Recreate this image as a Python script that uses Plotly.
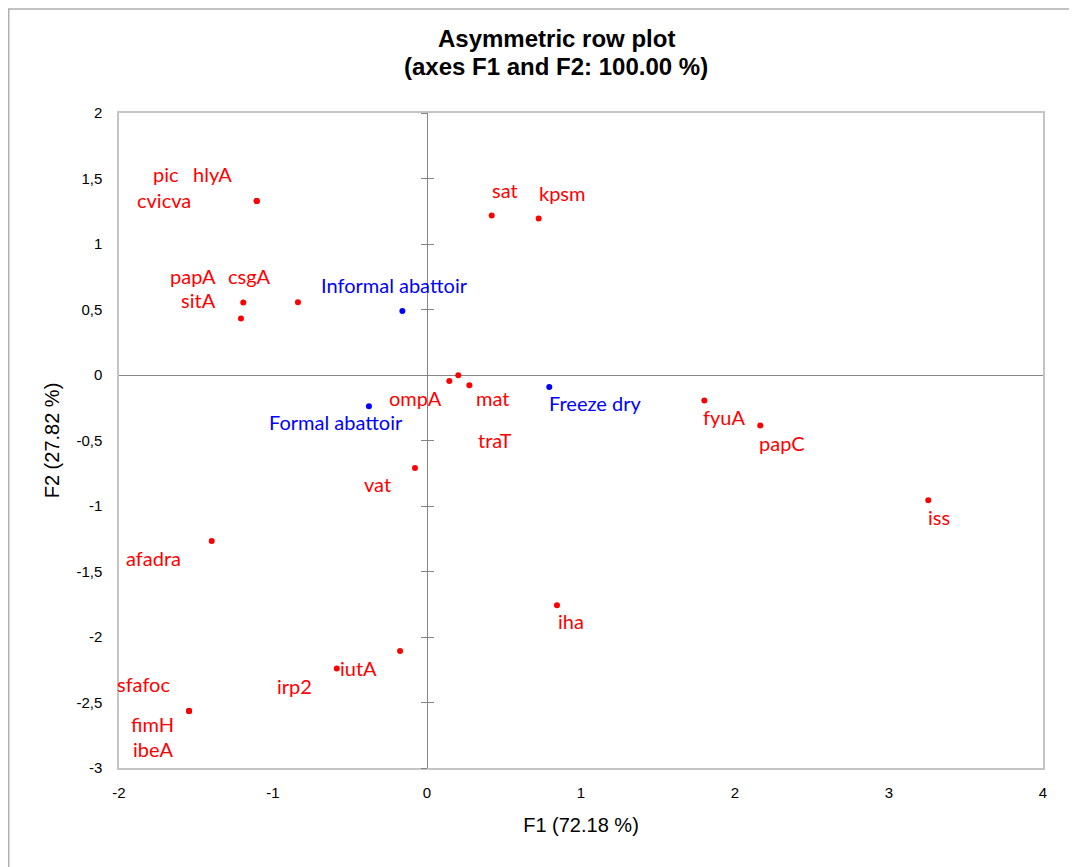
import plotly.graph_objects as go

# ---- data ----
row_labels = ["pic", "hlyA", "cvicva", "sat", "kpsm", "papA", "csgA", "sitA",
              "ompA", "mat", "traT", "fyuA", "papC", "iss", "vat", "afadra",
              "iha", "iutA", "irp2", "sfafoc", "fimH", "ibeA"]
row_f1 = [-1.106, -1.106, -1.106, 0.420, 0.725, -1.193, -0.838, -1.208,
          0.145, 0.203, 0.275, 1.801, 2.164, 3.255, -0.078, -1.398,
          0.844, -0.175, -0.586, -1.545, -1.545, -1.545]
row_f2 = [1.328, 1.328, 1.328, 1.217, 1.194, 0.553, 0.555, 0.431,
          -0.046, -0.002, -0.079, -0.195, -0.386, -0.956, -0.710, -1.267,
          -1.758, -2.107, -2.241, -2.565, -2.565, -2.565]

col_labels = ["Informal abattoir", "Formal abattoir", "Freeze dry"]
col_f1 = [-0.160, -0.377, 0.794]
col_f2 = [0.489, -0.239, -0.092]

x_ticks = [-2, -1, 0, 1, 2, 3, 4]
x_ticktext = ["-2", "-1", "0", "1", "2", "3", "4"]
y_ticks = [2, 1.5, 1, 0.5, 0, -0.5, -1, -1.5, -2, -2.5, -3]
y_ticktext = ["2", "1,5", "1", "0,5", "0", "-0,5", "-1", "-1,5", "-2", "-2,5", "-3"]

title_lines = ["Asymmetric row plot", "(axes F1 and F2: 100.00 %)"]
x_title = "F1 (72.18 %)"
y_title = "F2 (27.82 %)"

# ---- label placement (pixel offsets from point: right, down) ----
label_offsets = {
    "pic": (-91, -27), "hlyA": (-44, -27), "cvicva": (-93, -1),
    "sat": (13, -26), "kpsm": (23, -26),
    "papA": (-50, -27), "csgA": (-49, -26), "sitA": (-42, -19),
    "ompA": (-34, 17), "mat": (34, 23), "traT": (26, 55),
    "fyuA": (20, 16), "papC": (22, 17), "iss": (11, 17),
    "vat": (-37, 16), "afadra": (-58, 17), "iha": (14, 16),
    "iutA": (-42, 17), "irp2": (-42, 17),
    "sfafoc": (-46, -27), "fimH": (-37, 13), "ibeA": (-36, 38),
    "Informal abattoir": (-8, -26), "Formal abattoir": (-33, 16),
    "Freeze dry": (46, 16),
}

RED = "#ff0000"
BLUE = "#0000ff"
AXC = "#868686"
LABEL_FONT = "Lato"

W, H = 1077, 867
OFF = 8  # page body margin of the html page
# plot area in page pixels
PX0, PX1, PY0, PY1 = 119, 1043, 112.7, 767.7
L = PX0 - OFF
R = W - (PX1 - OFF)
T = PY0 - OFF
B = H - (PY1 - OFF)
PW = PX1 - PX0
PH = PY1 - PY0


def page_to_paper(px, py):
    fx = px - OFF
    fy = py - OFF
    return (fx - L) / PW, (H - B - fy) / PH


fig = go.Figure()
fig.add_trace(go.Scatter(x=row_f1, y=row_f2, mode="markers",
                         marker=dict(color=RED, size=6), hoverinfo="skip",
                         showlegend=False))
fig.add_trace(go.Scatter(x=col_f1, y=col_f2, mode="markers",
                         marker=dict(color=BLUE, size=6), hoverinfo="skip",
                         showlegend=False))
# empty traces to hold the tick-only overlay axes
fig.add_trace(go.Scatter(x=[], y=[], yaxis="y2", showlegend=False))
fig.add_trace(go.Scatter(x=[], y=[], yaxis="y3", showlegend=False))

annotations = []
for lab, xv, yv, col in ([(l, a, b, RED) for l, a, b in zip(row_labels, row_f1, row_f2)] +
                         [(l, a, b, BLUE) for l, a, b in zip(col_labels, col_f1, col_f2)]):
    dx, dy = label_offsets[lab]
    annotations.append(dict(x=xv, y=yv, xref="x", yref="y", text=lab,
                            showarrow=False, xshift=dx, yshift=-dy,
                            xanchor="center", yanchor="middle",
                            font=dict(family=LABEL_FONT, size=20, color=col)))

for txt, py in zip(title_lines, [38, 66]):
    tx, ty = page_to_paper(556, py)
    annotations.append(dict(x=tx, y=ty, xref="paper", yref="paper",
                            text="<b>%s</b>" % txt, showarrow=False,
                            xanchor="center", yanchor="middle",
                            font=dict(family="Liberation Sans", size=24, color="black")))

# chart frame (page pixels -> plot-area paper units)
fx0 = (0.75 - L) / PW
fx1 = (1075 - OFF - L) / PW
fy1 = (H - B - 0.75) / PH
fy0 = (H - B - 880) / PH

fig.update_layout(
    width=W, height=H,
    margin=dict(l=L, r=R, t=T, b=B, autoexpand=False),
    paper_bgcolor="white", plot_bgcolor="white",
    annotations=annotations,
    shapes=[dict(type="rect", xref="paper", yref="paper",
                 x0=fx0, x1=fx1, y0=fy0, y1=fy1,
                 line=dict(color="#b0b0b0", width=1.5), layer="below")],
    xaxis=dict(range=[-2, 4], tickvals=x_ticks, ticktext=x_ticktext,
               showgrid=False, zeroline=True, zerolinecolor=AXC, zerolinewidth=1,
               showline=True, mirror=True, linecolor="#c4c4c4", linewidth=1.5,
               ticks="", ticklabelstandoff=10,
               tickfont=dict(family="Liberation Sans", size=15, color="black"),
               title=dict(text=x_title, standoff=18,
                          font=dict(family="Liberation Sans", size=20, color="black"))),
    yaxis=dict(range=[-3, 2], tickvals=y_ticks, ticktext=y_ticktext,
               showgrid=False, zeroline=True, zerolinecolor=AXC, zerolinewidth=1,
               showline=True, mirror=True, linecolor="#c4c4c4", linewidth=1.5,
               ticks="", ticklabelstandoff=12,
               tickfont=dict(family="Liberation Sans", size=15, color="black"),
               title=dict(text=y_title, standoff=11,
                          font=dict(family="Liberation Sans", size=20, color="black"))),
    yaxis2=dict(overlaying="y", anchor="free", position=(0 - (-2)) / 6,
                range=[-3, 2], tickvals=y_ticks, showticklabels=False,
                ticks="outside", ticklen=6, tickcolor=AXC, tickwidth=1,
                showgrid=False, zeroline=False, showline=False),
    yaxis3=dict(overlaying="y", anchor="free", position=(0 - (-2)) / 6,
                range=[-3, 2], tickvals=y_ticks, showticklabels=False,
                ticks="inside", ticklen=6, tickcolor=AXC, tickwidth=1,
                showgrid=False, zeroline=False, showline=False),
)

fig.write_html("out.html")
